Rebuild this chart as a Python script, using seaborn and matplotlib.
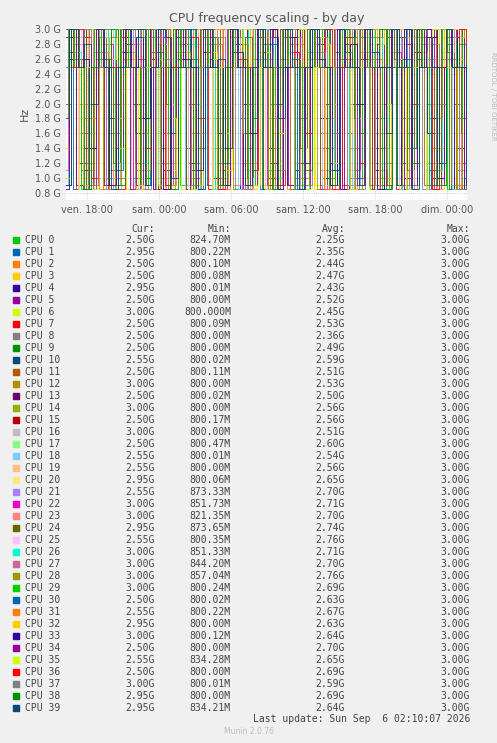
import numpy as np
import pandas as pd
import matplotlib
matplotlib.use("Agg")
import matplotlib.pyplot as plt
import seaborn as sns

cpus = [f"CPU {i}" for i in range(40)]
cur = ["2.50G","2.95G","2.50G","2.50G","2.95G","2.50G","3.00G","2.50G","2.50G","2.50G",
       "2.55G","2.50G","3.00G","2.50G","3.00G","2.50G","3.00G","2.50G","2.55G","2.55G",
       "2.95G","2.55G","3.00G","3.00G","2.95G","2.55G","3.00G","3.00G","3.00G","3.00G",
       "2.50G","2.55G","2.95G","3.00G","2.50G","2.55G","2.50G","3.00G","2.95G","2.95G"]
mins = ["824.70M","800.22M","800.10M","800.08M","800.01M","800.00M","800.000M","800.09M","800.00M","800.00M",
        "800.02M","800.11M","800.00M","800.02M","800.00M","800.17M","800.00M","800.47M","800.01M","800.00M",
        "800.06M","873.33M","851.73M","821.35M","873.65M","800.35M","851.33M","844.20M","857.04M","800.24M",
        "800.02M","800.22M","800.00M","800.12M","800.00M","834.28M","800.00M","800.01M","800.00M","834.21M"]
avg = ["2.25G","2.35G","2.44G","2.47G","2.43G","2.52G","2.45G","2.53G","2.36G","2.49G",
       "2.59G","2.51G","2.53G","2.50G","2.56G","2.56G","2.51G","2.60G","2.54G","2.56G",
       "2.65G","2.70G","2.71G","2.70G","2.74G","2.76G","2.71G","2.70G","2.76G","2.69G",
       "2.63G","2.67G","2.63G","2.64G","2.70G","2.65G","2.69G","2.59G","2.69G","2.64G"]
maxs = ["3.00G"] * 40

# hand-read representative frequency pattern (GHz), reused with offsets per CPU
base = [2.5,3.0,0.9,2.5,3.0,2.9,1.0,2.5,3.0,2.5,0.85,3.0,2.5,2.6,1.4,3.0,2.5,0.9,2.5,3.0,
        2.5,2.9,1.8,3.0,2.5,0.85,2.5,3.0,2.6,2.5,1.1,3.0,2.5,2.5,0.9,3.0,2.7,2.5,1.6,3.0,
        2.5,3.0,0.85,2.5,2.9,2.5,1.2,3.0,2.5,2.5,0.9,3.0,2.5,2.8,2.0,3.0,2.5,0.85,2.5,3.0]

palette = ["#00CC00","#0066B3","#FF8000","#FFCC00","#330099","#990099","#CCFF00","#FF0000",
           "#808080","#008F00","#00487D","#B35A00","#B38F00","#6B006B","#8FB300","#B30000",
           "#BEBEBE","#80FF80","#80C9FF","#FFC080","#FFE680","#AA80FF","#EE00CC","#FF8080",
           "#666600","#FFBFFF","#00FFCC","#CC6699","#999900"]
colors = [palette[i % len(palette)] for i in range(40)]

hours = np.linspace(16.25, 16.25 + 33.3, 240)
rows = []
for i in range(40):
    seq = np.roll(np.repeat(base, 4), i * 13 + (i % 5) * 3)
    rows.append(pd.DataFrame({"t": hours, "v": seq, "cpu": cpus[i]}))
df = pd.concat(rows)

fig = plt.figure(figsize=(4.97, 7.43), dpi=100, facecolor="#F0F0F0")
ax = fig.add_axes([66/497, 1-200/743, 401/497, 172/743])
ax.set_facecolor("white")
sns.lineplot(data=df, x="t", y="v", hue="cpu", palette=colors, legend=False,
             ax=ax, lw=0.6, drawstyle="steps-post", estimator=None)
ax.set_xlim(16.25, 16.25 + 33.4)
ax.set_ylim(0.7, 3.02)
ax.set_yticks(np.arange(0.8, 3.01, 0.2))
ax.set_yticklabels([f"{v:.1f} G" for v in np.arange(0.8, 3.01, 0.2)], fontsize=7, color="#555555")
ax.set_xticks([18, 24, 30, 36, 42, 48])
ax.set_xticklabels(["ven. 18:00","sam. 00:00","sam. 06:00","sam. 12:00","sam. 18:00","dim. 00:00"],
                   fontsize=7, color="#555555")
ax.grid(True, color="#DDAAAA", ls=":", lw=0.6)
ax.tick_params(length=0)
ax.set_xlabel(""); ax.set_ylabel("Hz", fontsize=8, color="#555555")
for s in ax.spines.values():
    s.set_visible(False)
ax.set_title("CPU frequency scaling - by day", fontsize=9, color="#555555", pad=4)
fig.text(0.985, 0.93, "RRDTOOL / TOBI OETIKER", rotation=270, fontsize=5, color="#BBBBBB", va="top")

mono = dict(family="DejaVu Sans Mono", fontsize=7, color="#444444")
def ty(py): return 1 - py / 743
fig.text(155/497, ty(229), "Cur:", ha="right", va="center", **mono)
fig.text(231/497, ty(229), "Min:", ha="right", va="center", **mono)
fig.text(345/497, ty(229), "Avg:", ha="right", va="center", **mono)
fig.text(470/497, ty(229), "Max:", ha="right", va="center", **mono)
for i in range(40):
    y = ty(240 + i * 12)
    fig.patches.append(plt.Rectangle((13/497, y - 3/743), 6/497, 6/743, transform=fig.transFigure,
                                     color=colors[i]))
    fig.text(25/497, y, cpus[i], ha="left", va="center", **mono)
    fig.text(155/497, y, cur[i], ha="right", va="center", **mono)
    fig.text(231/497, y, mins[i], ha="right", va="center", **mono)
    fig.text(345/497, y, avg[i], ha="right", va="center", **mono)
    fig.text(470/497, y, maxs[i], ha="right", va="center", **mono)
fig.text(470/497, ty(719), "Last update: Sun Sep  6 02:10:07 2026", ha="right", va="center", **mono)
fig.text(0.5, ty(732), "Munin 2.0.76", ha="center", va="center", fontsize=5.5, color="#BBBBBB")
fig.savefig("out.png", dpi=100, facecolor=fig.get_facecolor())
